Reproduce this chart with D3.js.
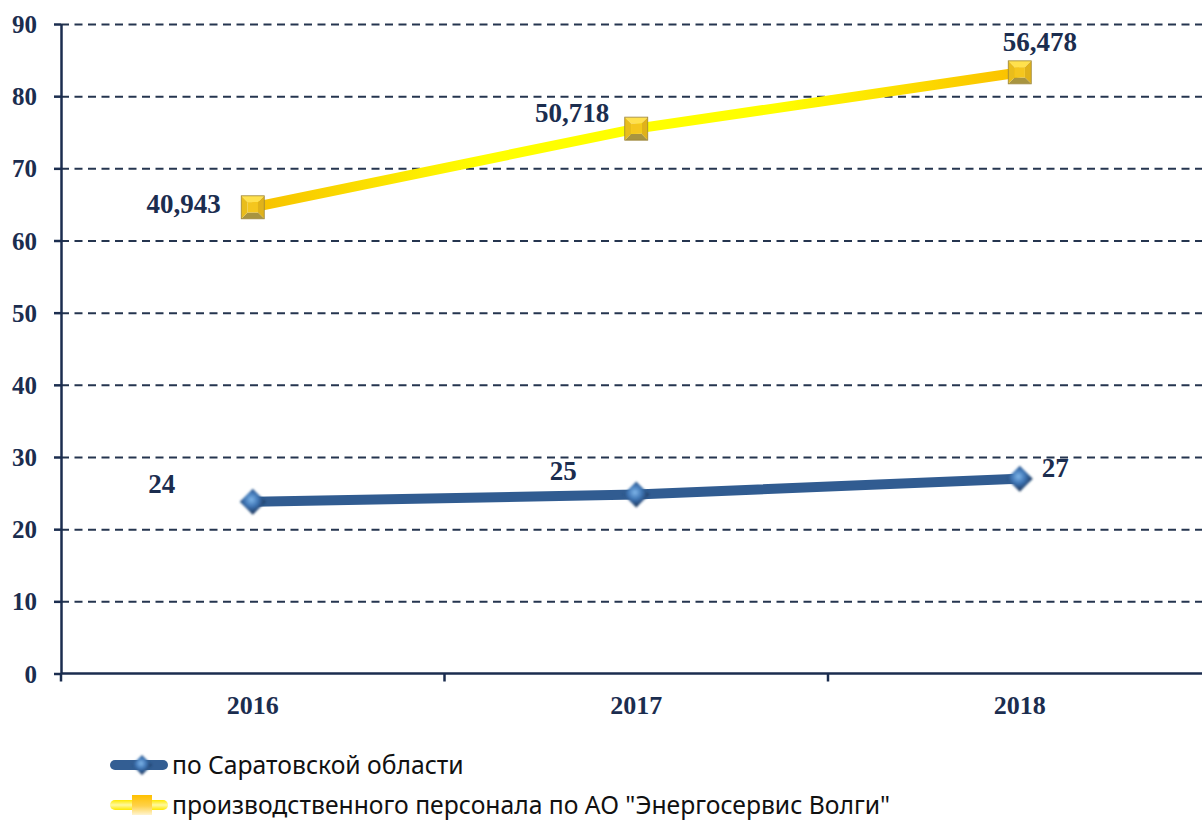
<!DOCTYPE html>
<html>
<head>
<meta charset="utf-8">
<script src="https://cdn.jsdelivr.net/npm/d3@7"></script>
<style>
  body { margin: 0; background: #fff; }
  svg { display: block; }
</style>
</head>
<body>
<svg id="chart"></svg>
<script>
// data
const years = ["2016", "2017", "2018"];
const regionValues = [23.8, 24.8, 27.0];
const regionLabels = ["24", "25", "27"];
const staffValues = [64.6, 75.5, 83.3];
const staffLabels = ["40,943", "50,718", "56,478"];
const yTicks = [0, 10, 20, 30, 40, 50, 60, 70, 80, 90];
const seriesNames = ["по Саратовской области", "производственного персонала по АО \"Энергосервис Волги\""];

// label offsets from the point (dx, dy, anchor)
const regionLabelPos = [[-91, -9, "middle"], [-73, -15, "middle"], [22, -2, "start"]];
const staffLabelPos = [[-32, 6, "end"], [-27, -7, "end"], [20, -21, "middle"]];

const W = 1202, H = 821;
const ink = "#1b2d4f";
const margin = {left: 61, top: 24};
const bandW = 383.5;

const svg = d3.select("#chart").attr("width", W).attr("height", H);

const x = d3.scaleBand().domain(years).range([margin.left, margin.left + bandW * years.length]).padding(0);
const y = d3.scaleLinear().domain([0, 90]).range([673.5, margin.top]);
const cx = d => x(d) + x.bandwidth() / 2;

const defs = svg.append("defs");

// yellow line gradient along x
const yg = defs.append("linearGradient").attr("id", "ylw").attr("gradientUnits", "userSpaceOnUse")
  .attr("x1", cx(years[0])).attr("x2", cx(years[2])).attr("y1", 0).attr("y2", 0);
yg.append("stop").attr("offset", 0).attr("stop-color", "#f7c000");
yg.append("stop").attr("offset", 0.3).attr("stop-color", "#ffff00");
yg.append("stop").attr("offset", 0.68).attr("stop-color", "#ffff00");
yg.append("stop").attr("offset", 1).attr("stop-color", "#fbc000");

const dg = defs.append("radialGradient").attr("id", "dia").attr("cx", "45%").attr("cy", "42%").attr("r", "60%");
dg.append("stop").attr("offset", 0).attr("stop-color", "#7fb6ea");
dg.append("stop").attr("offset", 0.45).attr("stop-color", "#3e74b3");
dg.append("stop").attr("offset", 1).attr("stop-color", "#14294a");

const lg = defs.append("linearGradient").attr("id", "legY").attr("x1", 0).attr("x2", 0).attr("y1", 0).attr("y2", 1);
lg.append("stop").attr("offset", 0).attr("stop-color", "#ffe800");
lg.append("stop").attr("offset", 0.5).attr("stop-color", "#fff9a0");
lg.append("stop").attr("offset", 1).attr("stop-color", "#ffe800");

const sq = defs.append("linearGradient").attr("id", "legSq").attr("x1", 0).attr("x2", 0).attr("y1", 0).attr("y2", 1);
sq.append("stop").attr("offset", 0).attr("stop-color", "#ffc000");
sq.append("stop").attr("offset", 0.55).attr("stop-color", "#ffd24a");
sq.append("stop").attr("offset", 1).attr("stop-color", "#fff4d0");

const blur = defs.append("filter").attr("id", "soft").attr("x", "-30%").attr("y", "-30%").attr("width", "160%").attr("height", "160%");
blur.append("feGaussianBlur").attr("stdDeviation", 0.8);

// gridlines
svg.append("g")
  .attr("transform", `translate(${margin.left},0)`)
  .call(d3.axisLeft(y).tickValues(yTicks.filter(d => d > 0)).tickSize(-(W - margin.left)).tickFormat(""))
  .call(g => g.select(".domain").remove())
  .call(g => g.selectAll("line").attr("stroke", "#25354f").attr("stroke-width", 2).attr("stroke-dasharray", "8,5.5"));

// y axis
svg.append("g")
  .attr("transform", `translate(${margin.left},0)`)
  .call(d3.axisLeft(y).tickValues(yTicks).tickSize(7).tickSizeOuter(0).tickPadding(17))
  .call(g => g.select(".domain").attr("stroke", ink).attr("stroke-width", 2.5))
  .call(g => g.selectAll("line").attr("stroke", ink).attr("stroke-width", 2.5))
  .call(g => g.selectAll("text").attr("fill", ink).attr("font-family", "Liberation Serif")
    .attr("font-weight", "bold").attr("font-size", 25).attr("dy", "0.34em"));

// x axis
const xAxis = svg.append("g").attr("transform", `translate(0,${y(0)})`);
xAxis.append("line").attr("x1", margin.left).attr("x2", W).attr("stroke", ink).attr("stroke-width", 2.5);
xAxis.selectAll(".xt").data(years).join("line")
  .attr("x1", d => x(d)).attr("x2", d => x(d)).attr("y1", 0).attr("y2", 8)
  .attr("stroke", ink).attr("stroke-width", 2.5);
xAxis.selectAll(".xl").data(years).join("text")
  .attr("x", d => cx(d)).attr("y", 40)
  .attr("text-anchor", "middle").attr("fill", ink)
  .attr("font-family", "Liberation Serif").attr("font-weight", "bold").attr("font-size", 26)
  .text(d => d);

const line = d3.line().x((d, i) => cx(years[i])).y(d => y(d));

// region series
svg.append("path").datum(regionValues).attr("d", line)
  .attr("fill", "none").attr("stroke", "#315c91").attr("stroke-width", 10);
// staff series
svg.append("path").datum(staffValues).attr("d", line)
  .attr("fill", "none").attr("stroke", "url(#ylw)").attr("stroke-width", 10);

function diamond(g, px, py, r) {
  g.append("path")
    .attr("d", `M${px},${py - r}L${px + r},${py}L${px},${py + r}L${px - r},${py}Z`)
    .attr("fill", "url(#dia)").attr("filter", "url(#soft)");
}
function bevelSquare(g, px, py, r) {
  const i = r * 0.45;
  const tl = [px - r, py - r], tr = [px + r, py - r], br = [px + r, py + r], bl = [px - r, py + r];
  const itl = [px - i, py - i], itr = [px + i, py - i], ibr = [px + i, py + i], ibl = [px - i, py + i];
  const poly = pts => "M" + pts.map(p => p.join(",")).join("L") + "Z";
  g.append("path").attr("d", poly([tl, tr, itr, itl])).attr("fill", "#ffe14d");
  g.append("path").attr("d", poly([tr, br, ibr, itr])).attr("fill", "#e0b21a");
  g.append("path").attr("d", poly([br, bl, ibl, ibr])).attr("fill", "#a89440");
  g.append("path").attr("d", poly([bl, tl, itl, ibl])).attr("fill", "#e9bd1c");
  g.append("path").attr("d", poly([itl, itr, ibr, ibl])).attr("fill", "#f4c61e");
  g.append("rect").attr("x", px - r).attr("y", py - r).attr("width", 2 * r).attr("height", 2 * r)
    .attr("fill", "none").attr("stroke", "#9c8438").attr("stroke-width", 0.8);
}

const markers = svg.append("g");
regionValues.forEach((v, i) => diamond(markers, cx(years[i]), y(v), 13));
staffValues.forEach((v, i) => bevelSquare(markers, cx(years[i]), y(v), 11.5));

// data labels
const labels = svg.append("g").attr("fill", ink).attr("font-family", "Liberation Serif")
  .attr("font-weight", "bold").attr("font-size", 27);
regionLabels.forEach((t, i) => {
  const p = regionLabelPos[i];
  labels.append("text").attr("x", cx(years[i]) + p[0]).attr("y", y(regionValues[i]) + p[1])
    .attr("text-anchor", p[2]).text(t);
});
staffLabels.forEach((t, i) => {
  const p = staffLabelPos[i];
  labels.append("text").attr("x", cx(years[i]) + p[0]).attr("y", y(staffValues[i]) + p[1])
    .attr("text-anchor", p[2]).text(t);
});

// legend
const leg = svg.append("g").attr("transform", "translate(110,0)");
const l1 = leg.append("g").attr("transform", "translate(0,765)");
l1.append("rect").attr("x", 0).attr("y", -5).attr("width", 58).attr("height", 10).attr("rx", 5)
  .attr("fill", "#335e93");
diamond(l1, 32, 0, 10);
l1.append("text").attr("x", 62).attr("y", 9).attr("fill", "#111").attr("font-family", "Noto Sans")
  .attr("font-size", 24.7).text(seriesNames[0]);

const l2 = leg.append("g").attr("transform", "translate(0,805)");
l2.append("rect").attr("x", 0).attr("y", -5).attr("width", 58).attr("height", 10).attr("rx", 5)
  .attr("fill", "url(#legY)");
l2.append("rect").attr("x", 22).attr("y", -10).attr("width", 20).attr("height", 20).attr("fill", "url(#legSq)");
l2.append("text").attr("x", 62).attr("y", 9).attr("fill", "#111").attr("font-family", "Noto Sans")
  .attr("font-size", 24.7).text(seriesNames[1]);
</script>
</body>
</html>
